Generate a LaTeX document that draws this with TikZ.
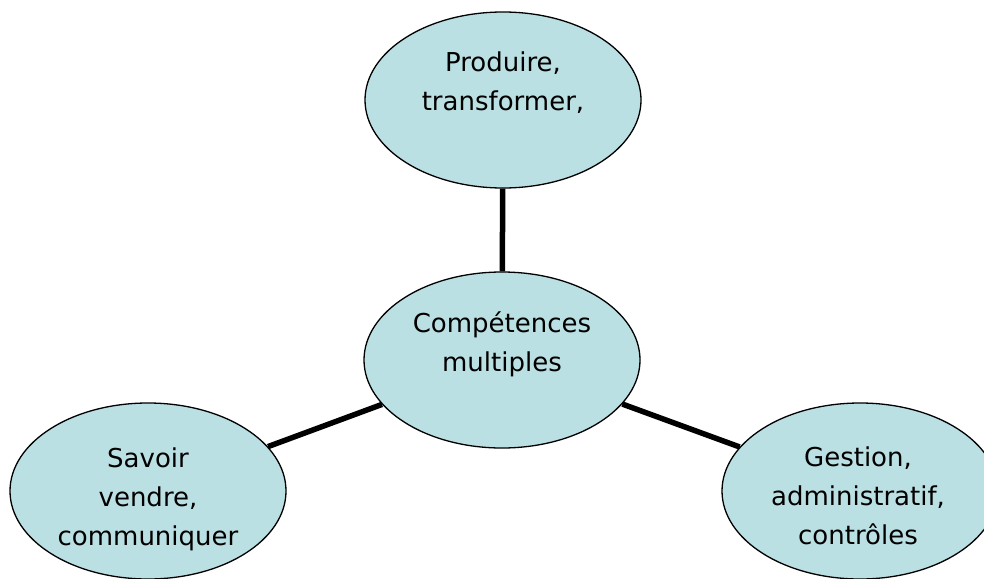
\documentclass[tikz,border=0pt]{standalone}
\usepackage{fontspec}
\setmainfont{DejaVu Sans}
\usetikzlibrary{shapes.geometric}
\definecolor{bubble}{RGB}{187,224,227}
\begin{document}
\begin{tikzpicture}[x=1pt,y=-1pt,
  bubblebox/.style={ellipse,draw=black,line width=1.3pt,fill=bubble,
    minimum width=276pt,minimum height=176pt,inner sep=0pt},
  bubbletext/.style={inner sep=0pt,align=center,
    font=\fontsize{26}{39}\selectfont},
  linkline/.style={line width=5.5pt}]
\useasboundingbox (0,0) rectangle (984,578);
\node[bubblebox] (top) at (503,100) {};
\node[bubblebox] (mid) at (502,360) {};
\node[bubblebox] (left) at (148,491) {};
\node[bubblebox] (right) at (860,491) {};
\node[bubbletext] (toptext) at (503,83) {Produire,\\transformer,};
\node[bubbletext] (midtext) at (502,344) {Compétences\\multiples};
\node[bubbletext] (lefttext) at (148,499) {Savoir\\vendre,\\communiquer};
\node[bubbletext] (righttext) at (858,496) {Gestion,\\administratif,\\contrôles};
\draw[linkline] (top) -- (mid);
\draw[linkline] (mid) -- (left);
\draw[linkline] (mid) -- (right);
\end{tikzpicture}
\end{document}
